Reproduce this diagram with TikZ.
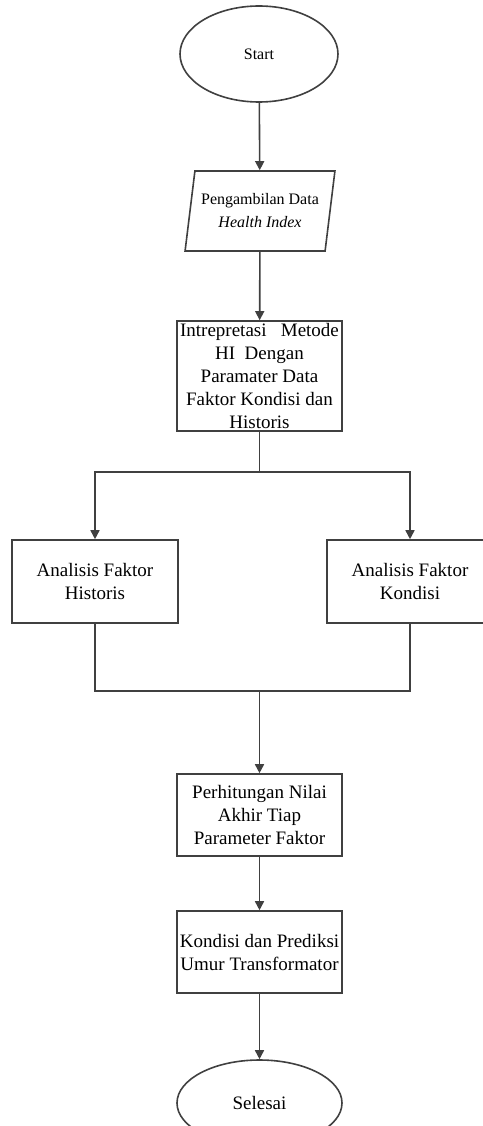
\documentclass[tikz,border=0pt]{standalone}
\usepackage{fontspec}
\setmainfont{Liberation Serif}
\usetikzlibrary{shapes.geometric,arrows.meta}
\begin{document}
\begin{tikzpicture}[x=1pt,y=-1pt,
    line width=1.6pt,
    every node/.style={draw=black!75,line width=1.6pt,align=center,inner sep=1pt,font=\fontsize{19}{23}\selectfont},
    terminal/.style={ellipse},
    io/.style={trapezium,trapezium left angle=76,trapezium right angle=104,trapezium stretches=true,minimum width=150pt,minimum height=80pt,font=\fontsize{16}{23}\selectfont},
    proc/.style={rectangle,minimum width=165pt},
    flow/.style={draw=black!75,-{Triangle[width=9pt,length=9pt]}},
    link/.style={draw=black!75}]
  \useasboundingbox (0,0) rectangle (482,1126);
  \draw
    (259,54) node[terminal,minimum width=158pt,minimum height=96pt,font=\fontsize{16}{20}\selectfont] (start){Start}
    (260,211) node[io] (data){Pengambilan Data\\\textit{Health Index}}
    (259.5,376) node[proc,minimum height=110pt] (interp){Intrepretasi\ \ \ Metode\\HI\ \ Dengan\\Paramater Data\\Faktor Kondisi dan\\Historis}
    (95,581.5) node[proc,minimum width=166pt,minimum height=83pt] (hist){Analisis Faktor\\Historis}
    (410,581.5) node[proc,minimum width=166pt,minimum height=83pt] (kond){Analisis Faktor\\Kondisi}
    (259.5,815) node[proc,minimum height=82pt] (hitung){Perhitungan Nilai\\Akhir Tiap\\Parameter Faktor}
    (259.5,952) node[proc,minimum height=82pt] (umur){Kondisi dan Prediksi\\Umur Transformator}
    (259.5,1103) node[terminal,minimum width=165pt,minimum height=86pt] (selesai){Selesai};
  \coordinate (split) at (259.5,472);
  \coordinate (merge) at (259.5,691);
  \begin{scope}[flow]
    \draw (start) to (data);
    \draw (data) to (interp);
    \draw[link,-] (interp) to (split);
    \draw (split) -| (hist);
    \draw (split) -| (kond);
    \draw (merge) to (hitung);
    \draw (hitung) to (umur);
    \draw (umur) to (selesai);
  \end{scope}
  \begin{scope}[link]
    \draw (hist) |- (merge);
    \draw (kond) |- (merge);
  \end{scope}
\end{tikzpicture}
\end{document}
